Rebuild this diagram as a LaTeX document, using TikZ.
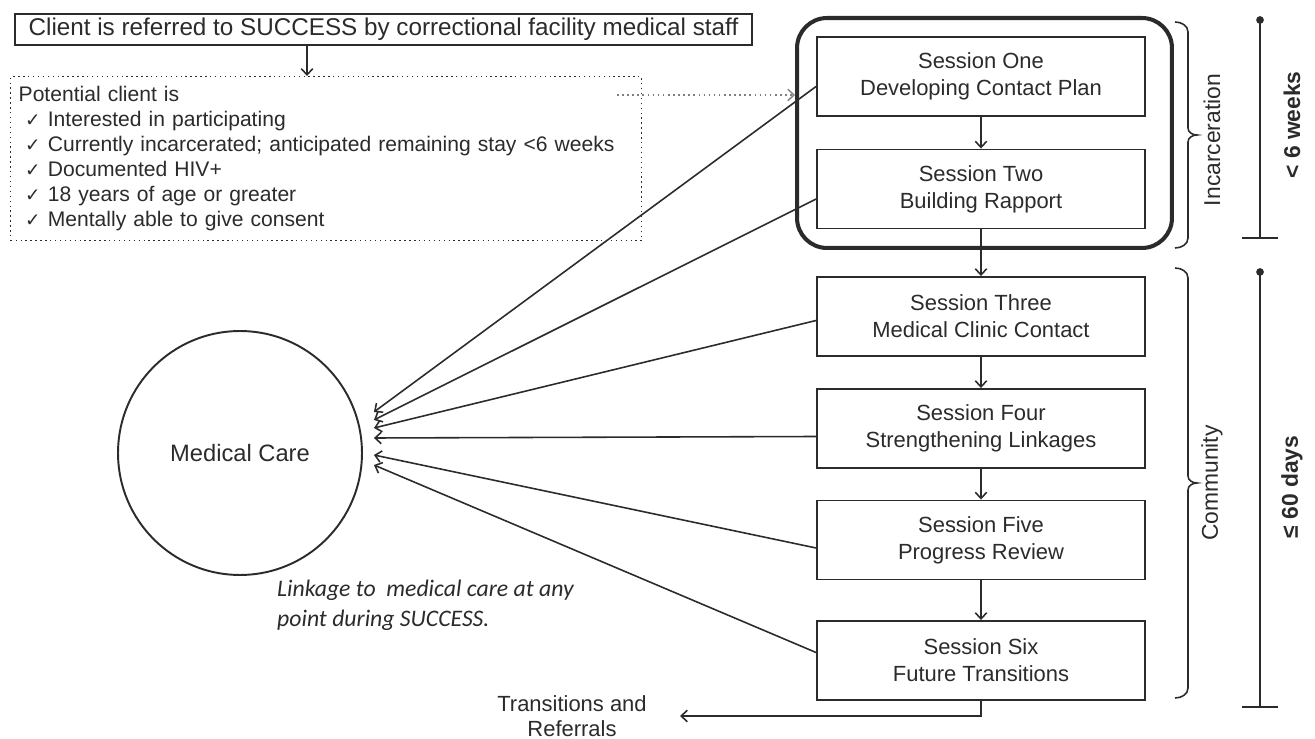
\documentclass[tikz,border=0pt]{standalone}
\usepackage{fontspec}
\setmainfont{Liberation Sans}
\newfontfamily\calfont{Carlito}
\newfontfamily\symfont{DejaVu Sans}
\usetikzlibrary{calc,arrows.meta}
\definecolor{ink}{HTML}{2B2B2B}
\newcommand{\chk}{\hspace*{0.3em}{\symfont\fontsize{10.5}{10}\selectfont ✓}\hspace{0.35em}}

\begin{document}
\begin{tikzpicture}[x=0.02cm, y=-0.02cm, ink,
  session/.style={draw, line width=1.1pt, minimum width=6.56cm, minimum height=1.58cm, align=center, font=\fontsize{12.5}{15.5}\selectfont},
  link/.style={-{Straight Barb[length=3.5pt,width=6.5pt]}, line width=0.9pt},
  bracket/.style={line width=0.9pt},
  side/.style={rotate=90, font=\fontsize{13}{15}\selectfont},
  span/.style={rotate=90, font=\bfseries\fontsize{13}{15}\selectfont}]
  \useasboundingbox (0,0) rectangle (1315,739);

  % referral and criteria
  \node[draw, line width=1.1pt, minimum width=14.74cm, minimum height=0.62cm, inner sep=0pt, font=\fontsize{13.8}{15}\selectfont] (refer) at (383.5,29.5) {Client is referred to SUCCESS by correctional facility medical staff};
  \node[draw, dotted, line width=0.8pt, anchor=north west, minimum width=12.62cm, minimum height=3.28cm, text width=12.3cm, inner xsep=0.16cm, align=left, font=\fontsize{12}{14.2}\selectfont] (crit) at (10,76) {Potential client is\\
    \chk Interested in participating\\
    \chk Currently incarcerated; anticipated remaining stay <6 weeks\\
    \chk Documented HIV+\\
    \chk 18 years of age or greater\\
    \chk Mentally able to give consent};
  \coordinate (ax) at (307,0);
  \draw[link] (refer.south -| ax) -- (crit.north -| ax);

  % sessions
  \node[draw, line width=2.3pt, rounded corners=0.6cm, minimum width=7.5cm, minimum height=4.6cm] (jail) at (984.5,133) {};
  \node[session] (s1) at (981,76.5) {Session One\\Developing Contact Plan};
  \node[session] (s2) at (981,189) {Session Two\\Building Rapport};
  \node[session] (s3) at (981,316.5) {Session Three\\Medical Clinic Contact};
  \node[session] (s4) at (981,428.5) {Session Four\\Strengthening Linkages};
  \node[session] (s5) at (981,540) {Session Five\\Progress Review};
  \node[session] (s6) at (981,660.5) {Session Six\\Future Transitions};
  \foreach \a/\b in {s1/s2, s2/s3, s3/s4, s4/s5, s5/s6}
    \draw[link] (\a) -- (\b);

  \coordinate (dotstart) at (617,95);
  \draw[link, dotted, line width=0.8pt, gray] (dotstart) -- (dotstart -| jail.west);

  % medical care
  \node[draw, circle, line width=1.1pt, minimum size=4.88cm, font=\fontsize{13.5}{16}\selectfont] (care) at (240,453) {Medical Care};
  \foreach \s/\dy/\ey in {s1/10/-41, s2/10/-33, s3/4/-25, s4/8/-15, s5/8/2, s6/-8/12}
    \draw[link] ($(\s.west)+(0,\dy)$) -- ($(care.east)+(11,\ey)$);
  \node[anchor=west, align=left, font=\calfont\itshape\fontsize{13.5}{17}\selectfont] (note) at (271,605) {Linkage to \ medical care at any\\point during SUCCESS.};

  % exit
  \node[align=center, font=\fontsize{12.5}{14.2}\selectfont] (trans) at (572,716) {Transitions and\\Referrals};
  \coordinate (tend) at (680,716);
  \draw[link] (s6.south) |- (tend);

  % phases
  \draw[bracket] (1175,22) to[out=0,in=90] (1188,32) -- (1188,128) to[out=-90,in=180] (1197,135) to[out=180,in=90] (1188,142) -- (1188,238) to[out=-90,in=0] (1175,248);
  \draw[bracket] (1175,268) to[out=0,in=90] (1188,278) -- (1188,476) to[out=-90,in=180] (1197,483) to[out=180,in=90] (1188,490) -- (1188,688) to[out=-90,in=0] (1175,698);
  \node[side] (inc) at (1212,140) {Incarceration};
  \node[side] (com) at (1212,483) {Community};

  % durations
  \fill (1260,20) circle (2.2pt);
  \draw[line width=0.9pt] (1260,20) -- (1260,238) (1242,238) -- (1278,238);
  \fill (1260,272) circle (2.2pt);
  \draw[line width=0.9pt] (1260,272) -- (1260,707) (1242,707) -- (1278,707);
  \node[span] (weeks) at (1292,125) {< 6 weeks};
  \node[span] (days) at (1292,487) {≤ 60 days};
\end{tikzpicture}
\end{document}
